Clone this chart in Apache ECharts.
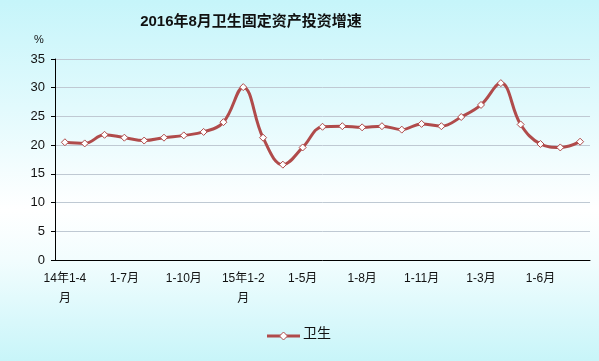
<!DOCTYPE html>
<html><head><meta charset="utf-8">
<script src="https://cdn.jsdelivr.net/npm/echarts@6/dist/echarts.min.js"></script>
<style>html,body{margin:0;padding:0;}#c{width:599px;height:361px;}</style>
</head><body><div id="c"></div>
<script>
const titleText = '2016年8月卫生固定资产投资增速';
const seriesName = '卫生';
const categories = [
  '14年1-4月','1-5月','1-6月','1-7月','1-8月','1-9月','1-10月','1-11月','1-12月',
  '15年1-2月','1-3月','1-4月','1-5月','1-6月','1-7月','1-8月','1-9月','1-10月','1-11月','1-12月',
  '16年1-2月','1-3月','1-4月','1-5月','1-6月','1-7月','1-8月'
];
const values = [20.5,20.3,21.8,21.3,20.8,21.3,21.7,22.3,24.0,30.1,21.3,16.6,19.6,23.2,23.3,23.1,23.3,22.7,23.7,23.3,24.9,27.0,30.8,23.6,20.2,19.6,20.6];
const yTicks = {min:0, max:35, interval:5};

const FONT = "'Liberation Sans','Noto Sans CJK SC',sans-serif";
const chart = echarts.init(document.getElementById('c'));
chart.setOption({
  animation:false,
  backgroundColor:{type:'linear',x:0,y:0,x2:0,y2:1,colorStops:[
    {offset:0,color:'#c6f5fa'},{offset:0.3,color:'#e2fafd'},{offset:0.58,color:'#ffffff'},
    {offset:0.72,color:'#f2fdfe'},{offset:1,color:'#c8f5f9'}]},
  title:{text:titleText,left:246,textAlign:'center',top:9,
    textStyle:{fontSize:15,fontWeight:'bold',color:'#111',fontFamily:FONT}},
  grid:{left:55,right:9,top:59,bottom:101,containLabel:false},
  xAxis:{type:'category',data:categories,boundaryGap:true,
    axisLine:{lineStyle:{color:'#000',width:1}},
    axisTick:{inside:true,length:4,interval:0,lineStyle:{color:'#000'}},
    axisLabel:{interval:2,color:'#111',fontSize:12,fontFamily:FONT,margin:9,lineHeight:20,
      formatter:function(v){return v.indexOf('年')>=0 && v.length>6 ? v.slice(0,-1)+'\n'+v.slice(-1) : v.replace('16年','');}},
    splitLine:{show:false}},
  yAxis:{type:'value',min:yTicks.min,max:yTicks.max,interval:yTicks.interval,
    axisLine:{show:true,lineStyle:{color:'#000',width:1}},
    axisTick:{show:true,length:4,lineStyle:{color:'#000'}},
    axisLabel:{color:'#111',fontSize:13,fontFamily:FONT,margin:10},
    splitLine:{lineStyle:{color:'#bfc9d3',width:1}}},
  series:[{name:seriesName,type:'line',data:values,smooth:0.4,
    symbol:'diamond',symbolSize:7,showAllSymbol:true,
    lineStyle:{color:'#b04b4b',width:3},
    itemStyle:{color:'#ffffff',borderColor:'#b04b4b',borderWidth:1}}],
  graphic:[
    {type:'text',left:34,top:34,style:{text:'%',fontSize:11,fill:'#111',fontFamily:FONT}},
    {type:'line',shape:{x1:267,y1:336,x2:300,y2:336},style:{stroke:'#b04b4b',lineWidth:3}},
    {type:'polygon',shape:{points:[[283.5,332],[287.5,336],[283.5,340],[279.5,336]]},style:{fill:'#fff',stroke:'#b04b4b',lineWidth:1}},
    {type:'text',left:303,top:327,style:{text:seriesName,fontSize:14,fill:'#111',fontFamily:FONT}}
  ]
});
</script></body></html>
